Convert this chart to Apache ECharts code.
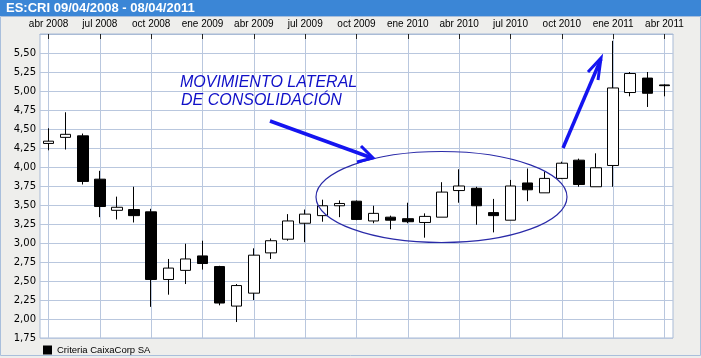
<!DOCTYPE html>
<html>
<head>
<meta charset="utf-8">
<script src="https://cdn.jsdelivr.net/npm/echarts@6/dist/echarts.min.js"></script>
<style>
html,body{margin:0;padding:0;background:#eeeeec;}
#c{width:701px;height:358px;}
</style>
</head>
<body>
<div id="c"></div>
<script>
const months = ['abr 2008','may 2008','jun 2008','jul 2008','ago 2008','sep 2008','oct 2008','nov 2008','dic 2008',
  'ene 2009','feb 2009','mar 2009','abr 2009','may 2009','jun 2009','jul 2009','ago 2009','sep 2009','oct 2009','nov 2009','dic 2009',
  'ene 2010','feb 2010','mar 2010','abr 2010','may 2010','jun 2010','jul 2010','ago 2010','sep 2010','oct 2010','nov 2010','dic 2010',
  'ene 2011','feb 2011','mar 2011','abr 2011'];
const opens  = [4.31,4.39,4.41,3.84,3.43,3.44,3.41,2.52,2.64,2.83,2.69,2.17,2.34,2.87,3.05,3.26,3.36,3.49,3.55,3.29,3.34,3.32,3.27,3.34,3.69,3.72,3.40,3.30,3.79,3.66,3.85,4.09,3.74,4.02,4.98,5.17,5.08];
const closes = [4.34,4.43,3.81,3.48,3.47,3.36,2.52,2.67,2.79,2.73,2.21,2.44,2.84,3.03,3.29,3.38,3.49,3.52,3.31,3.39,3.30,3.28,3.35,3.67,3.75,3.49,3.36,3.75,3.70,3.85,4.05,3.77,3.99,5.04,5.23,4.97,5.07];
const lows   = [4.22,4.23,3.77,3.34,3.31,3.27,2.16,2.32,2.46,2.65,2.18,1.96,2.25,2.79,3.03,3.01,3.28,3.34,3.30,3.26,3.18,3.26,3.07,3.34,3.53,3.24,3.14,3.30,3.55,3.66,3.84,3.74,3.74,3.74,4.93,4.79,4.93];
const highs  = [4.51,4.72,4.44,3.95,3.61,3.74,3.45,2.79,2.99,3.03,2.70,2.46,2.93,3.06,3.38,3.44,3.57,3.56,3.56,3.49,3.36,3.53,3.39,3.80,3.97,3.74,3.58,3.83,3.98,3.94,4.07,4.11,4.18,5.66,5.25,5.25,5.09];
const seriesName = 'Criteria CaixaCorp SA';
const titleText = 'ES:CRI 09/04/2008 - 08/04/2011';
const noteLines = ['MOVIMIENTO LATERAL', 'DE CONSOLIDACIÓN'];

const candles = months.map((m, i) => [opens[i], closes[i], lows[i], highs[i]]);
const chart = echarts.init(document.getElementById('c'), null, {renderer: 'canvas'});
const gridCol = '#b9c7de';
const blue = '#1414f0';
chart.setOption({
  animation: false,
  backgroundColor: '#eeeeec',
  grid: {left: 40, right: 28, top: 34, bottom: 20, show: true, backgroundColor: '#ffffff', borderColor: '#a9bbd6', borderWidth: 1},
  legend: {
    left: 38, top: 340, itemWidth: 9, itemHeight: 9, itemGap: 4,
    icon: 'rect',
    textStyle: {fontFamily: 'Liberation Sans', fontSize: 9.5, color: '#000'},
    data: [{name: seriesName, itemStyle: {color: '#000', borderWidth: 0}}]
  },
  xAxis: {
    type: 'category', data: months, position: 'top', boundaryGap: true,
    axisLine: {show: true, lineStyle: {color: '#a9bbd6'}},
    axisTick: {show: true, inside: true, alignWithLabel: true, interval: 2, length: 5, lineStyle: {color: '#222'}},
    axisLabel: {interval: 2, margin: 5, fontFamily: 'Liberation Sans', fontSize: 10, color: '#000'},
    splitLine: {show: true, interval: 2, alignWithLabel: true, lineStyle: {color: gridCol, width: 1}}
  },
  yAxis: {
    type: 'value', min: 1.75, max: 5.75, interval: 0.25,
    axisLine: {show: false}, axisTick: {show: false},
    axisLabel: {margin: 4, fontFamily: 'DejaVu Sans', fontSize: 10, color: '#000',
      formatter: v => v > 5.7 ? '' : v.toFixed(2).replace('.', ',')},
    splitLine: {show: true, lineStyle: {color: gridCol, width: 1}}
  },
  series: [{
    type: 'candlestick', name: seriesName, data: candles, barWidth: 11,
    itemStyle: {color: '#ffffff', color0: '#000000', borderColor: '#000000', borderColor0: '#000000', borderWidth: 1}
  }],
  graphic: [
    {type: 'rect', shape: {x: 0, y: 0, width: 701, height: 16}, style: {fill: '#3b86d6'}, z: 100},
    {type: 'text', x: 6, y: 2, style: {text: titleText, fill: '#ffffff', font: 'bold 13px "Liberation Sans"'}, z: 101},
    {type: 'rect', shape: {x: 0.5, y: 16.5, width: 700, height: 339}, style: {fill: null, stroke: '#a9bfdc', lineWidth: 1}, z: 100},
    {type: 'text', x: 180, y: 75, style: {text: noteLines[0], fill: '#1010c8', font: 'italic 16px "Liberation Sans"'}, z: 101},
    {type: 'text', x: 181, y: 93, style: {text: noteLines[1], fill: '#1010c8', font: 'italic 16px "Liberation Sans"'}, z: 101},
    {type: 'ellipse', shape: {cx: 441.5, cy: 197, rx: 125.5, ry: 45.5}, style: {fill: null, stroke: '#2a2aa8', lineWidth: 1.2}, z: 101},
    {type: 'polyline', shape: {points: [[270, 121], [372, 158]]}, style: {stroke: blue, lineWidth: 3.5}, z: 101},
    {type: 'polyline', shape: {points: [[361, 146], [373, 158], [357, 162]]}, style: {stroke: blue, lineWidth: 3, fill: null}, z: 101},
    {type: 'polyline', shape: {points: [[563, 148], [601, 59]]}, style: {stroke: blue, lineWidth: 3.5}, z: 101},
    {type: 'polyline', shape: {points: [[588, 72], [601, 58], [598, 80]]}, style: {stroke: blue, lineWidth: 3, fill: null}, z: 101}
  ]
});
</script>
</body>
</html>
